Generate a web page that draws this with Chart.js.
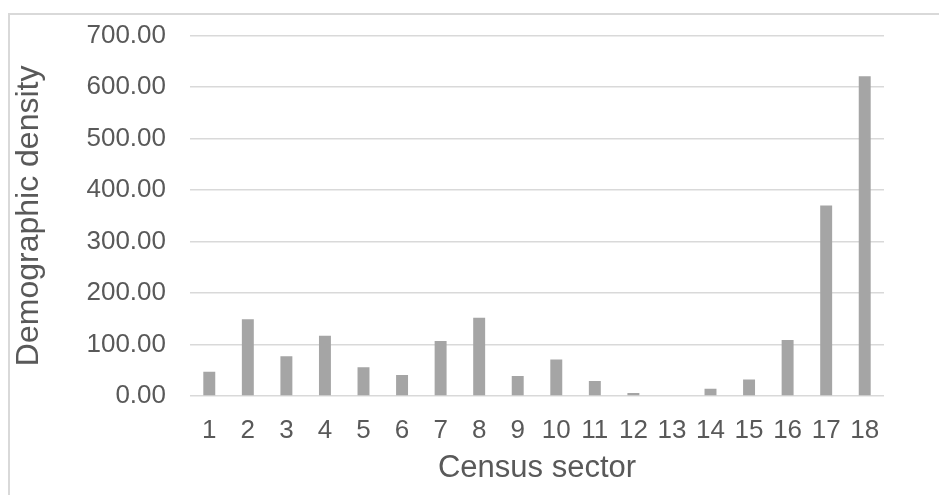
<!DOCTYPE html>
<html>
<head>
<meta charset="utf-8">
<script src="https://cdn.jsdelivr.net/npm/chart.js@4.4.1/dist/chart.umd.min.js"></script>
<style>
  html, body { margin: 0; padding: 0; background: #ffffff; }
  #wrap { position: relative; width: 939px; height: 495px; overflow: hidden; }
  #frame { position: absolute; left: 8px; top: 13px; width: 960px; height: 520px;
           border-top: 2px solid #d9d9d9; border-left: 2px solid #d9d9d9; box-sizing: border-box; }
  canvas { position: absolute; left: 0; top: 0; }
</style>
</head>
<body>
<div id="wrap">
  <div id="frame"></div>
  <canvas id="chart" width="939" height="495"></canvas>
</div>
<script>
// Census sectors and their demographic density
const sectors = ['1','2','3','4','5','6','7','8','9','10','11','12','13','14','15','16','17','18'];
const density = [47, 149, 77, 117, 56, 41, 107, 152, 39, 71, 29, 6, 0, 14, 32, 109, 370, 621];
const xTitle = 'Census sector';
const yTitle = 'Demographic density';

const textColor = '#595959';
const fontFamily = '"Liberation Sans", Arial, sans-serif';

new Chart(document.getElementById('chart'), {
  type: 'bar',
  data: {
    labels: sectors,
    datasets: [{
      data: density,
      backgroundColor: '#a5a5a5',
      borderWidth: 0,
      barPercentage: 0.31,
      categoryPercentage: 1.0
    }]
  },
  options: {
    responsive: false,
    animation: false,
    devicePixelRatio: 1,
    layout: { padding: { top: 30, right: 55, bottom: 0, left: 0 } },
    plugins: { legend: { display: false }, tooltip: { enabled: false } },
    scales: {
      x: {
        grid: { display: false, drawTicks: false },
        border: { display: false },
        ticks: { color: textColor, font: { family: fontFamily, size: 26 }, padding: 19, maxRotation: 0, autoSkip: false },
        title: { display: true, text: xTitle, color: textColor, font: { family: fontFamily, size: 31 }, padding: { top: 0, bottom: 8 } },
        afterFit: (s) => { s.height = 99; }
      },
      y: {
        min: 0,
        max: 700,
        grid: { color: '#d9d9d9', lineWidth: 1.5, drawTicks: false },
        border: { display: false },
        ticks: {
          stepSize: 100,
          color: textColor,
          font: { family: fontFamily, size: 26, lineHeight: 0.9 },
          padding: 24,
          callback: (v) => Number(v).toFixed(2)
        },
        title: { display: true, text: yTitle, color: textColor, font: { family: fontFamily, size: 32 }, padding: { top: 10, bottom: 0 } },
        afterFit: (s) => { s.width = 190; }
      }
    }
  }
});
</script>
</body>
</html>
